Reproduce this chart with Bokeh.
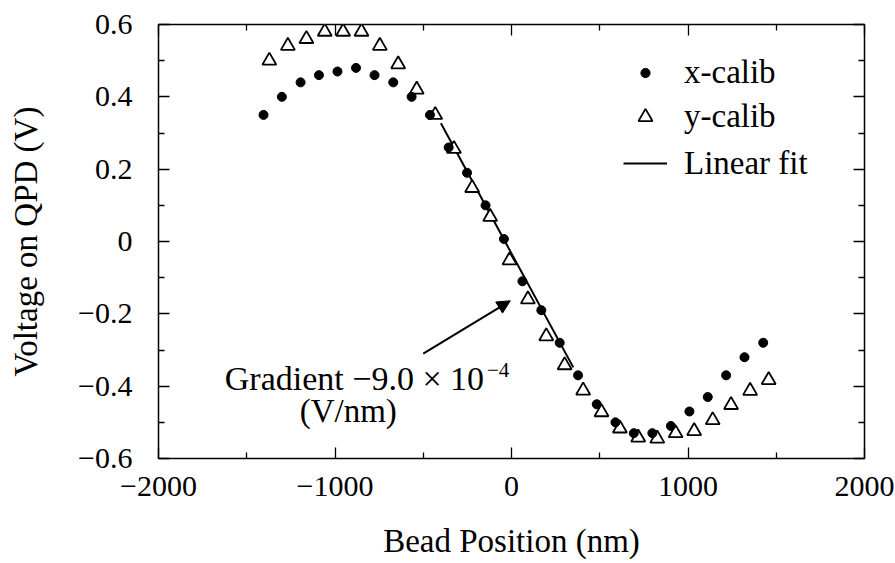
from bokeh.plotting import figure
from bokeh.models import (Range1d, FixedTicker, LinearAxis, CustomJSTickFormatter,
                          Legend, LegendItem, Arrow, NormalHead, Label, ColumnDataSource)
from bokeh.embed import file_html
from bokeh.resources import INLINE

# ---- data ----
x_calib_pos = [-1405, -1301, -1195, -1091, -986, -881, -776, -670, -566, -462, -356, -252,
               -147, -43, 62, 169, 273, 377, 483, 589, 693, 798, 903, 1008, 1112, 1216, 1320, 1426]
x_calib_v = [0.35, 0.40, 0.44, 0.46, 0.47, 0.48, 0.46, 0.44, 0.40, 0.35, 0.26, 0.19,
             0.10, 0.007, -0.11, -0.19, -0.28, -0.37, -0.45, -0.50, -0.53, -0.53, -0.51, -0.47,
             -0.43, -0.37, -0.32, -0.28]

y_calib_pos = [-1372, -1267, -1162, -1058, -954, -850, -746, -642, -537, -432, -326, -223,
               -121, -11, 93, 197, 301, 406, 510, 614, 718, 826, 930, 1035, 1140, 1244, 1352, 1457]
y_calib_v = [0.50, 0.541, 0.56, 0.58, 0.58, 0.58, 0.541, 0.49, 0.42, 0.35, 0.256, 0.148,
             0.068, -0.052, -0.16, -0.262, -0.342, -0.412, -0.472, -0.517, -0.542, -0.545, -0.53,
             -0.524, -0.494, -0.452, -0.413, -0.383]

fit_slope = -9.0e-4
fit_intercept = -0.033
fit_range = [-400, 350]

x_ticks = [-2000, -1000, 0, 1000, 2000]
x_tick_labels = ["\u22122000", "\u22121000", "0", "1000", "2000"]
x_minor = [-1500, -500, 500, 1500]
y_ticks = [-0.6, -0.4, -0.2, 0.0, 0.2, 0.4, 0.6]
y_tick_labels = ["\u22120.6", "\u22120.4", "\u22120.2", "0", "0.2", "0.4", "0.6"]
y_minor = [-0.5, -0.3, -0.1, 0.1, 0.3, 0.5]

x_title = "Bead Position (nm)"
y_title = "Voltage on QPD (V)"

FONT = "Liberation Serif"

fit_x = fit_range
fit_y = [fit_slope * v + fit_intercept for v in fit_range]

p = figure(width=895, height=563, output_backend="svg", toolbar_location=None,
           x_range=Range1d(-2000, 2000), y_range=Range1d(-0.6, 0.6),
           min_border_left=158, min_border_right=31, min_border_top=24, min_border_bottom=105,
           x_axis_type=None, y_axis_type=None)
p.background_fill_color = "white"
p.border_fill_color = "white"
p.outline_line_color = "black"
p.outline_line_width = 1.5
p.xgrid.visible = False
p.ygrid.visible = False

lookup = """
let best = 0; let d = Infinity;
for (let i = 0; i < tk.length; i++) { const e = Math.abs(tk[i] - tick); if (e < d) { d = e; best = i; } }
return lb[best];
"""

def style_axis(ax):
    ax.axis_line_color = None
    ax.major_tick_in = 11
    ax.major_tick_out = 0
    ax.minor_tick_in = 6
    ax.minor_tick_out = 0
    ax.major_tick_line_color = "black"
    ax.minor_tick_line_color = "black"
    ax.major_tick_line_width = 1.3
    ax.minor_tick_line_width = 1.3
    ax.major_label_text_font = FONT
    ax.major_label_text_font_size = "30px"
    ax.major_label_text_color = "black"
    ax.axis_label_text_font = FONT
    ax.axis_label_text_font_size = "33px"
    ax.axis_label_text_font_style = "normal"
    ax.axis_label_text_color = "black"

xt = FixedTicker(ticks=x_ticks, minor_ticks=x_minor)
yt = FixedTicker(ticks=y_ticks, minor_ticks=y_minor)

xb = LinearAxis(ticker=xt, formatter=CustomJSTickFormatter(args=dict(tk=x_ticks, lb=x_tick_labels), code=lookup),
                axis_label=x_title)
style_axis(xb)
xb.major_label_standoff = 18
xb.axis_label_standoff = 24
p.add_layout(xb, "below")

yl = LinearAxis(ticker=yt, formatter=CustomJSTickFormatter(args=dict(tk=y_ticks, lb=y_tick_labels), code=lookup),
                axis_label=y_title)
style_axis(yl)
yl.major_label_standoff = 26
yl.axis_label_standoff = 31
p.add_layout(yl, "left")

xa = LinearAxis(ticker=xt, formatter=CustomJSTickFormatter(code="return '';"))
style_axis(xa)
xa.major_label_text_font_size = "1px"
xa.major_label_standoff = 0
p.add_layout(xa, "above")

yr = LinearAxis(ticker=yt, formatter=CustomJSTickFormatter(code="return '';"))
style_axis(yr)
yr.major_label_text_font_size = "1px"
yr.major_label_standoff = 0
p.add_layout(yr, "right")

src_x = ColumnDataSource(dict(x=x_calib_pos, y=x_calib_v))
src_y = ColumnDataSource(dict(x=y_calib_pos, y=y_calib_v))
src_f = ColumnDataSource(dict(x=fit_x, y=fit_y))

r_fit = p.line("x", "y", source=src_f, line_color="black", line_width=2)
r_y = p.scatter("x", "y", source=src_y, marker="triangle", size=14, fill_color="white",
                line_color="black", line_width=1.8)
r_x = p.scatter("x", "y", source=src_x, marker="circle", size=9, fill_color="black",
                line_color="black", line_width=1)

def make_legend(label, renderer, gh, loc):
    lg = Legend(items=[LegendItem(label=label, renderers=[renderer])], location=loc)
    lg.label_text_font = FONT
    lg.label_text_font_size = "33px"
    lg.label_text_color = "black"
    lg.glyph_width = 44
    lg.glyph_height = gh
    lg.label_height = gh
    lg.label_standoff = 17
    lg.spacing = 0
    lg.padding = 0
    lg.margin = 0
    lg.border_line_color = None
    lg.background_fill_alpha = 0
    return lg

p.add_layout(make_legend("x-calib", r_x, 23, (465, 367)))
p.add_layout(make_legend("y-calib", r_y, 35, (465, 323)))
p.add_layout(make_legend("Linear fit", r_fit, 40, (465, 275)))

p.add_layout(Arrow(end=NormalHead(size=13, fill_color="black", line_color="black", line_width=1),
                   x_start=-500, y_start=-0.31, x_end=-7, y_end=-0.164,
                   line_color="black", line_width=2))

p.add_layout(Label(x=-155.5, y=-0.380, text="Gradient \u22129.0 \u00d7 10", text_align="right",
                   text_baseline="alphabetic", text_font=FONT, text_font_size="34px", text_color="black"))
p.add_layout(Label(x=-139.4, y=-0.356, text="\u22124", text_align="left",
                   text_baseline="alphabetic", text_font=FONT, text_font_size="21px", text_color="black"))
p.add_layout(Label(x=-925, y=-0.469, text="(V/nm)", text_align="center",
                   text_baseline="alphabetic", text_font=FONT, text_font_size="33px", text_color="black"))

open("out.html", "w").write(file_html(p, INLINE))
